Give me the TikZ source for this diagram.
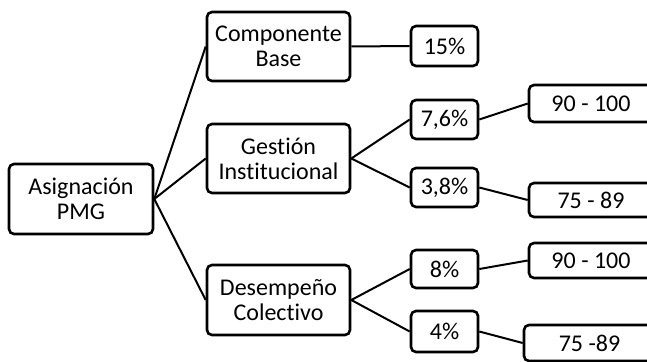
\documentclass[tikz,border=0pt]{standalone}
\usepackage{fontspec}
\setmainfont{Carlito}[Ligatures=NoCommon]
\begin{document}
\begin{tikzpicture}[x=1pt,y=-1pt,
  box/.style={draw, line width=2.6pt, rounded corners=5pt, inner sep=0pt, align=center,
    font=\fontsize{24}{25}\selectfont},
  link/.style={line width=2pt}]
\useasboundingbox (0,0) rectangle (647,361);
\clip (0,0) rectangle (647,361);
\node[box, minimum width=144pt, minimum height=70pt] (root) at (81,199) {Asignación\\PMG};
\node[box, minimum width=143pt, minimum height=69pt] (comp) at (278.5,46.5) {Componente\\Base};
\node[box, minimum width=143pt, minimum height=69pt] (gest) at (278.5,158.5) {Gestión\\Institucional};
\node[box, minimum width=143pt, minimum height=70pt] (desem) at (278.5,300) {Desempeño\\Colectivo};
\node[box, minimum width=67pt, minimum height=40pt] (p15) at (444.5,46) {15\%};
\node[box, minimum width=67pt, minimum height=39pt] (p76) at (444.5,119.5) {7,6\%};
\node[box, minimum width=67pt, minimum height=39pt] (p38) at (444.5,187.5) {3,8\%};
\node[box, minimum width=67pt, minimum height=38pt] (p8) at (444.5,269) {8\%};
\node[box, minimum width=67pt, minimum height=41pt] (p4) at (444.5,331.5) {4\%};
\node[box, minimum width=124pt, minimum height=37pt] (r1) at (591,103.5) {90 - 100};
\node[box, minimum width=124pt, minimum height=34pt] (r2) at (591,200) {75 - 89};
\node[box, minimum width=124pt, minimum height=35pt] (r3) at (591,260.5) {90 - 100};
\node[box, minimum width=131pt, minimum height=36pt] (r4) at (589.5,343) {75 -89};
\draw[link] (root.east) -- (comp.west);
\draw[link] (root.east) -- (gest.west);
\draw[link] (root.east) -- (desem.west);
\draw[link] (comp.east) -- (p15.west);
\draw[link] (gest.east) -- (p76.west);
\draw[link] (gest.east) -- (p38.west);
\draw[link] (desem.east) -- (p8.west);
\draw[link] (desem.east) -- (p4.west);
\draw[link] (p76.east) -- (r1.west);
\draw[link] (p38.east) -- (r2.west);
\draw[link] (p8.east) -- (r3.west);
\draw[link] (p4.east) -- (r4.west);
\end{tikzpicture}
\end{document}
